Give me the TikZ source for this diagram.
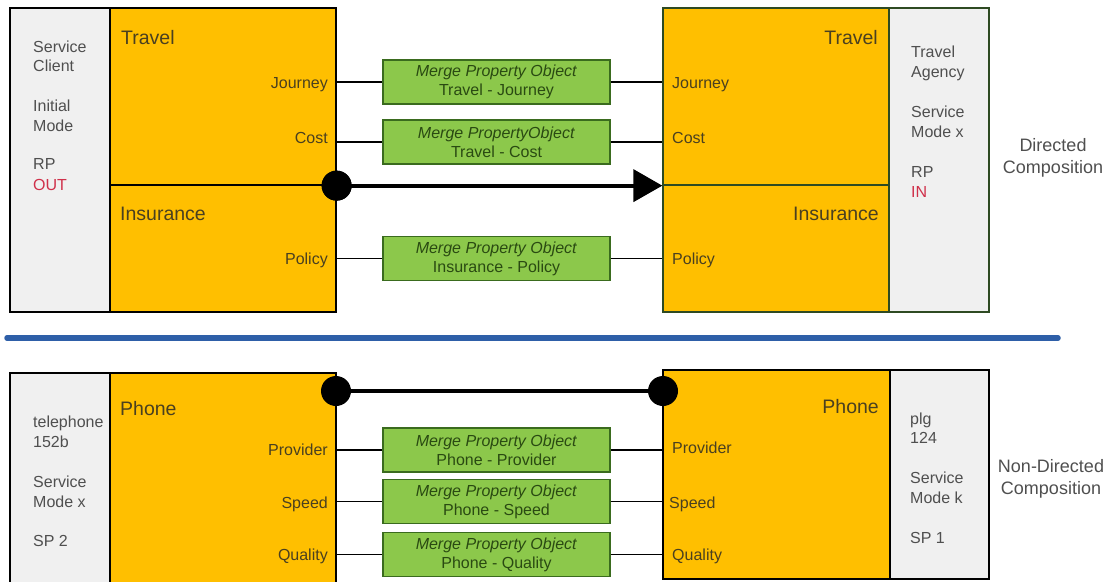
\documentclass[tikz,border=0pt]{standalone}
\usepackage{fontspec}
\setmainfont{Liberation Sans}
\usetikzlibrary{arrows.meta}
\definecolor{orng}{HTML}{FFBF00}
\definecolor{pgrey}{HTML}{F0F0F0}
\definecolor{grn}{HTML}{8CC84B}
\definecolor{grnb}{HTML}{3A6B1E}
\definecolor{grnt}{HTML}{2A4A12}
\definecolor{otext}{HTML}{4A4020}
\definecolor{gtext}{HTML}{4F4F4F}
\definecolor{rtext}{HTML}{D0304A}
\definecolor{bline}{HTML}{2E5FA8}
\definecolor{dgb}{HTML}{2E4A22}
\begin{document}
\begin{tikzpicture}[x=1pt,y=-1pt,
  panel/.style={draw=#1, fill=pgrey, line width=1.3pt, inner sep=0pt, rectangle},
  obox/.style={draw=#1, fill=orng, line width=1.3pt, inner sep=0pt, rectangle},
  gbox/.style={draw=grnb, fill=grn, line width=1.4pt, inner sep=0pt, rectangle,
     minimum width=227pt, minimum height=44pt, align=center, text=grnt,
     font=\fontsize{16}{19}\selectfont},
  ttl/.style={inner sep=0pt, text=otext, font=\fontsize{19.5}{22}\selectfont},
  lbl/.style={inner sep=0pt, text=otext, font=\fontsize{16}{19}\selectfont},
  ptxt/.style={inner sep=0pt, text=gtext, font=\fontsize{16}{19}\selectfont, anchor=base west},
  rtxt/.style={inner sep=0pt, text=rtext, font=\fontsize{16}{19}\selectfont, anchor=base west},
  side/.style={inner sep=0pt, text=gtext, align=center, font=\fontsize{18}{22}\selectfont},
  link/.style={draw=black, line width=1.4pt},
  dot/.style={circle, fill=black, inner sep=0pt, minimum size=30pt},
  thick link/.style={draw=black, line width=4pt}
]
\useasboundingbox (0,0) rectangle (1108,581);

% ---------- top: directed composition ----------
\node[panel=black, minimum width=100pt, minimum height=304pt] (lgp) at (60,160) {};
\node[obox=black, minimum width=226pt, minimum height=177pt] (ltr) at (223,96.5) {};
\node[obox=black, minimum width=226pt, minimum height=127pt] (lin) at (223,248.5) {};

\node[obox=dgb, minimum width=226pt, minimum height=177pt] (rtr) at (776,96.5) {};
\node[obox=dgb, minimum width=226pt, minimum height=127pt] (rin) at (776,248.5) {};
\node[panel=dgb, minimum width=100pt, minimum height=304pt] (rgp) at (939,160) {};

\node[ttl, anchor=base west] (tl1) at (121,44) {Travel};
\node[lbl, anchor=base east] (lj) at (328,88) {Journey};
\node[lbl, anchor=base east] (lc) at (328,143) {Cost};
\node[ttl, anchor=base west] (tl2) at (120,220) {Insurance};
\node[lbl, anchor=base east] (lp) at (328,264) {Policy};

\node[ptxt] (a1) at (33,52) {Service};
\node[ptxt] (a2) at (33,71) {Client};
\node[ptxt] (a3) at (33,111) {Initial};
\node[ptxt] (a4) at (33,131) {Mode};
\node[ptxt] (a5) at (33,169) {RP};
\node[rtxt] (a6) at (33,190) {OUT};

\node[ttl, anchor=base east] (tr1) at (878,44) {Travel};
\node[lbl, anchor=base west] (rj) at (672,88) {Journey};
\node[lbl, anchor=base west] (rc) at (672,143) {Cost};
\node[ttl, anchor=base east] (tr2) at (879,220) {Insurance};
\node[lbl, anchor=base west] (rp) at (672,264) {Policy};

\node[ptxt] (b1) at (911,57) {Travel};
\node[ptxt] (b2) at (911,77) {Agency};
\node[ptxt] (b3) at (911,117) {Service};
\node[ptxt] (b4) at (911,137) {Mode x};
\node[ptxt] (b5) at (911,177) {RP};
\node[rtxt] (b6) at (911,197) {IN};

\node[side] (dc) at (1053,158) {Directed\\Composition};

\node[gbox] (g1) at (496.5,82) {\textit{Merge Property Object}\\Travel - Journey};
\node[gbox] (g2) at (496.5,142) {\textit{Merge PropertyObject}\\Travel - Cost};
\node[gbox] (g3) at (496.5,258.5) {\textit{Merge Property Object}\\Insurance - Policy};

\draw[link] (g1.west -| ltr.east) -- (g1.west);
\draw[link] (g1.east) -- (g1.east -| rtr.west);
\draw[link] (g2.west -| ltr.east) -- (g2.west);
\draw[link] (g2.east) -- (g2.east -| rtr.west);
\draw[link] (g3.west -| lin.east) -- (g3.west);
\draw[link] (g3.east) -- (g3.east -| rin.west);

\node[dot] (c1) at (ltr.south east) {};
\draw[thick link, -{Triangle[length=29pt,width=32pt]}] (c1.center) -- (rtr.south west);
\node[dot] at (ltr.south east) {};

% ---------- divider ----------
\draw[bline, line width=5.5pt, line cap=round] (7,338) -- (1058,338);

% ---------- bottom: non-directed composition ----------
\node[panel=black, minimum width=100pt, minimum height=217pt] (lgp2) at (60,481.5) {};
\node[obox=black, minimum width=226pt, minimum height=217pt] (lph) at (223,481.5) {};
\node[obox=black, minimum width=227pt, minimum height=209pt] (rph) at (776.5,474.5) {};
\node[panel=black, minimum width=99pt, minimum height=209pt] (rgp2) at (939.5,474.5) {};

\node[ttl, anchor=base west] (tp1) at (120,415) {Phone};
\node[lbl, anchor=base east] (lpv) at (328,455) {Provider};
\node[lbl, anchor=base east] (lsp) at (328,508) {Speed};
\node[lbl, anchor=base east] (lq) at (328,560) {Quality};

\node[ptxt] (c1a) at (33,427) {telephone};
\node[ptxt] (c2a) at (33,447) {152b};
\node[ptxt] (c3a) at (33,487) {Service};
\node[ptxt] (c4a) at (33,507) {Mode x};
\node[ptxt] (c5a) at (33,546) {SP 2};

\node[ttl, anchor=base east] (tp2) at (879,413) {Phone};
\node[lbl, anchor=base west] (rpv) at (672,453) {Provider};
\node[lbl, anchor=base west] (rsp) at (669,508) {Speed};
\node[lbl, anchor=base west] (rq) at (672,560) {Quality};

\node[ptxt] (d1) at (910,424) {plg};
\node[ptxt] (d2) at (910,443) {124};
\node[ptxt] (d3) at (910,483) {Service};
\node[ptxt] (d4) at (910,503) {Mode k};
\node[ptxt] (d5) at (910,543) {SP 1};

\node[side] (ndc) at (1051,478.5) {Non-Directed\\Composition};

\node[gbox] (h1) at (496.5,450) {\textit{Merge Property Object}\\Phone - Provider};
\node[gbox] (h2) at (496.5,501.5) {\textit{Merge Property Object}\\Phone - Speed};
\node[gbox] (h3) at (496.5,554.5) {\textit{Merge Property Object}\\Phone - Quality};

\draw[link] (h1.west -| lph.east) -- (h1.west);
\draw[link] (h1.east) -- (h1.east -| rph.west);
\draw[link] (h2.west -| lph.east) -- (h2.west);
\draw[link] (h2.east) -- (h2.east -| rph.west);
\draw[link] (h3.west -| lph.east) -- (h3.west);
\draw[link] (h3.east) -- (h3.east -| rph.west);

\coordinate (p1) at (336,391);
\coordinate (p2) at (663,391);
\node[dot] (e1) at (p1) {};
\node[dot] (e2) at (p2) {};
\draw[thick link] (e1) -- (e2);
\end{tikzpicture}
\end{document}
